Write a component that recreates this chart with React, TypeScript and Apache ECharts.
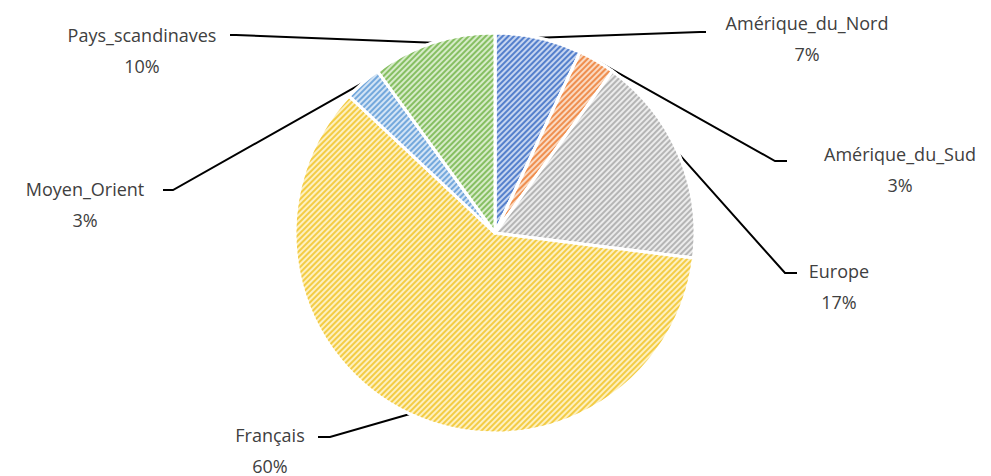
import React, { useEffect, useRef } from "react";
import * as echarts from "echarts";

// Répartition par origine (%)
const categories = [
  "Amérique_du_Nord",
  "Amérique_du_Sud",
  "Europe",
  "Français",
  "Moyen_Orient",
  "Pays_scandinaves",
];
const shares = [7, 3, 17, 60, 3, 10];

// Hatch colours: light base tint + stripe colour
const baseColors = ["#C6D5F0", "#FADAC2", "#EBEBEB", "#FDF0C0", "#D3E4F5", "#D6EBC8"];
const stripeColors = ["#5580CC", "#EF8F50", "#B5B5B5", "#F3CC45", "#74A8DC", "#86BF62"];

// Label placement: block centre, leader-line elbow and end
const labelCenters: [number, number][] = [
  [807, 38],
  [900, 169],
  [839, 286],
  [270, 450],
  [85, 204],
  [142, 50],
];
const lineElbows: [number, number][] = [
  [700, 32],
  [775, 161],
  [785, 273],
  [330, 437],
  [173, 190],
  [236, 35],
];
const lineEnds: [number, number][] = [
  [706, 32],
  [787, 161],
  [797, 273],
  [318, 437],
  [163, 190],
  [230, 35],
];

export default function App() {
  const ref = useRef<HTMLDivElement>(null);

  useEffect(() => {
    if (!ref.current) return;
    const chart = echarts.init(ref.current, undefined, { renderer: "svg" });
    chart.setOption({
      animation: false,
      backgroundColor: "#ffffff",
      series: [
        {
          type: "pie",
          center: [495, 233],
          radius: 200,
          startAngle: 90,
          clockwise: true,
          avoidLabelOverlap: false,
          data: categories.map((name, i) => ({
            name,
            value: shares[i],
            itemStyle: {
              color: baseColors[i],
              borderColor: "#ffffff",
              borderWidth: 3,
              decal: {
                symbol: "rect",
                dashArrayX: [1, 0],
                dashArrayY: [2, 2],
                rotation: -Math.PI / 4,
                color: stripeColors[i],
              },
            },
          })),
          label: {
            show: true,
            formatter: (p: any) => `${p.name}\n${p.value}%`,
            fontFamily: "Open Sans",
            fontSize: 18,
            color: "#404040",
            lineHeight: 31,
            align: "center",
          },
          labelLine: {
            show: true,
            lineStyle: { color: "#000000", width: 2 },
          },
          labelLayout: (params: any) => {
            const i = params.dataIndex;
            const start = params.labelLinePoints
              ? params.labelLinePoints[0]
              : lineElbows[i];
            return {
              x: labelCenters[i][0],
              y: labelCenters[i][1],
              align: "center",
              verticalAlign: "middle",
              labelLinePoints: [start, lineElbows[i], lineEnds[i]],
            };
          },
        },
      ],
    });
    return () => chart.dispose();
  }, []);

  return (
    <div
      ref={ref}
      style={{ position: "absolute", left: 0, top: 0, width: 991, height: 476 }}
    />
  );
}
